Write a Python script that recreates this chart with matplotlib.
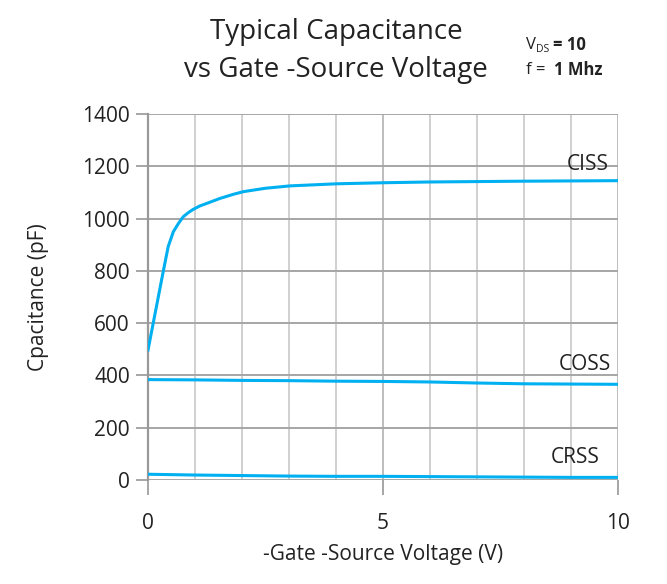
import matplotlib
matplotlib.use("Agg")
import matplotlib.pyplot as plt
import numpy as np

plt.rcParams['font.family'] = ['Open Sans', 'DejaVu Sans']

ciss_x = [0.0, 0.11, 0.22, 0.33, 0.43, 0.54, 0.65, 0.75, 0.86, 0.96, 1.1, 1.25, 1.53, 1.8, 2.03, 2.5, 3.02, 4.01, 5.0, 6.0, 8.0, 10.0]
ciss_y = [497, 599, 701, 803, 893, 950, 982, 1007, 1023, 1035, 1048, 1058, 1077, 1092, 1103, 1116, 1125, 1133, 1137, 1140, 1143, 1145]
coss_x = [0, 1, 2, 3, 4, 5, 6, 7, 8, 9, 10]
coss_y = [384, 383, 381, 380, 378, 377, 375, 371, 368, 367, 366]
crss_x = [0, 1, 2, 3, 4, 5, 6, 7, 8, 9, 10]
crss_y = [22, 19, 17, 15, 14, 14, 13, 12, 11, 10, 10]

W, H = 667, 584
fig = plt.figure(figsize=(W/100, H/100), dpi=100)
ax = fig.add_axes([148/W, (H-480)/H, (618-148)/W, (480-114)/H])

line_color = '#00b0f0'
for xs, ys in [(ciss_x, ciss_y), (coss_x, coss_y), (crss_x, crss_y)]:
    ax.plot(xs, ys, color=line_color, lw=2.2, zorder=3, solid_joinstyle='round')

ax.set_xlim(0, 10)
ax.set_ylim(0, 1400)
ax.set_xticks([0, 5, 10])
ax.set_xticks(np.arange(0, 11, 1), minor=True)
ax.set_yticks(np.arange(0, 1401, 200))

ax.grid(True, which='major', axis='y', color='#a6a6a6', lw=1.4, zorder=1)
ax.grid(True, which='minor', axis='x', color='#d0d0d0', lw=1.4, zorder=1)
ax.grid(True, which='major', axis='x', color='#bdbdbd', lw=1.4, zorder=1)

for s in ['top', 'right', 'bottom']:
    ax.spines[s].set_visible(False)
ax.spines['left'].set_color('#999999')
ax.spines['left'].set_linewidth(1.6)

ax.tick_params(axis='y', which='major', length=9, width=1.4, color='#a6a6a6',
               labelsize=15, pad=4, labelcolor='#222222')
ax.tick_params(axis='x', which='major', length=11, width=1.4, color='#a6a6a6',
               labelsize=15, pad=13, labelcolor='#222222')
ax.tick_params(axis='x', which='minor', length=0)

ax.set_xlabel('-Gate -Source Voltage (V)', fontsize=15, color='#222222', labelpad=7)
ax.set_ylabel('Cpacitance (pF)', fontsize=15, color='#222222', labelpad=24)

ax.text(9.8, 1165, 'CISS', fontsize=15, ha='right', va='bottom', color='#222222')
ax.text(9.85, 400, 'COSS', fontsize=15, ha='right', va='bottom', color='#222222')
ax.text(9.6, 45, 'CRSS', fontsize=15, ha='right', va='bottom', color='#222222')

fig.text(336/W, 1 - 32/H, 'Typical Capacitance', fontsize=20, ha='center', va='center', color='#222222')
fig.text(336/W, 1 - 70/H, 'vs Gate -Source Voltage', fontsize=20, ha='center', va='center', color='#222222')

fig.text(526/W, 1 - 45/H, 'V', fontsize=12, ha='left', va='center', color='#222222')
fig.text(536/W, 1 - 49/H, 'DS', fontsize=7.5, ha='left', va='center', color='#222222')
fig.text(553/W, 1 - 45/H, '= 10', fontsize=12, ha='left', va='center', color='#222222', fontweight='bold')
fig.text(526/W, 1 - 70/H, 'f =', fontsize=12, ha='left', va='center', color='#222222')
fig.text(554/W, 1 - 70/H, '1 Mhz', fontsize=12, ha='left', va='center', color='#222222', fontweight='bold')

fig.savefig('out.png', dpi=100)
